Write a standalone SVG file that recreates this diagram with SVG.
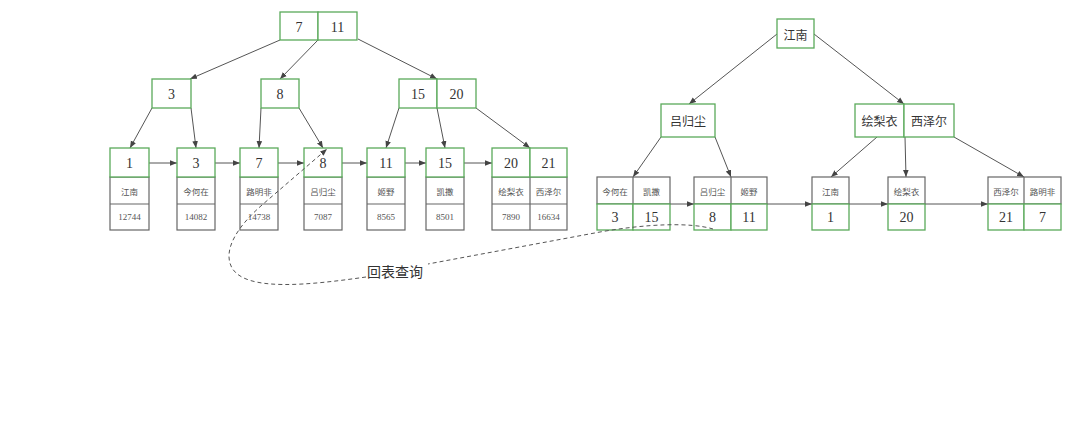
<svg xmlns="http://www.w3.org/2000/svg" width="1080" height="433" viewBox="0 0 1080 433">
<defs>
<marker id="ah" viewBox="0 0 10 10" refX="10" refY="5" markerWidth="7" markerHeight="7" orient="auto" markerUnits="userSpaceOnUse"><path d="M0,1 L10,5 L0,9 z" fill="#444"/></marker>
</defs>
<style>
.g{fill:#fff;stroke:#5aaa5a;stroke-width:1.3}
.k{fill:#fff;stroke:#666;stroke-width:1.2}
.d{stroke:#666;stroke-width:1.2;fill:none}
.e{stroke:#555;stroke-width:1;fill:none;marker-end:url(#ah)}
.dash{fill:none;stroke:#555;stroke-width:1;stroke-dasharray:4,3}
.n{font-family:"Liberation Serif","DejaVu Serif",serif;font-size:14px;fill:#333;text-anchor:middle;dominant-baseline:central}
.s{font-family:"Liberation Serif","DejaVu Serif",serif;font-size:9px;fill:#555;text-anchor:middle;dominant-baseline:central}
.c{font-family:"Noto Sans CJK SC",sans-serif;font-size:8.5px;fill:#555;text-anchor:middle;dominant-baseline:central}
.cm{font-family:"Noto Sans CJK SC",sans-serif;font-size:12px;fill:#333;text-anchor:middle;dominant-baseline:central}
.lb{font-family:"Noto Sans CJK SC",sans-serif;font-size:14px;fill:#333;dominant-baseline:central}
</style>
<rect width="1080" height="433" fill="#fff"/>
<g id="connectors">
<line class="e" x1="280" y1="40" x2="190" y2="79"/>
<line class="e" x1="318" y1="40" x2="280" y2="79"/>
<line class="e" x1="358" y1="39" x2="437" y2="79"/>
<line class="e" x1="152" y1="108" x2="130" y2="148"/>
<line class="e" x1="191" y1="108" x2="196" y2="148"/>
<line class="e" x1="261" y1="108" x2="259" y2="148"/>
<line class="e" x1="299" y1="108" x2="323" y2="148"/>
<line class="e" x1="399" y1="108" x2="386" y2="148"/>
<line class="e" x1="437" y1="108" x2="445" y2="148"/>
<line class="e" x1="476" y1="108" x2="530" y2="148"/>
<line class="e" x1="149" y1="163" x2="177" y2="163"/>
<line class="e" x1="215" y1="163" x2="240" y2="163"/>
<line class="e" x1="278" y1="163" x2="304" y2="163"/>
<line class="e" x1="342" y1="163" x2="367" y2="163"/>
<line class="e" x1="405" y1="163" x2="426" y2="163"/>
<line class="e" x1="464" y1="163" x2="492" y2="163"/>
<line class="e" x1="777" y1="34" x2="689" y2="104"/>
<line class="e" x1="814" y1="34" x2="904" y2="104"/>
<line class="e" x1="661" y1="137" x2="633" y2="177"/>
<line class="e" x1="715" y1="137" x2="731" y2="177"/>
<line class="e" x1="877" y1="137" x2="831" y2="177"/>
<line class="e" x1="905" y1="137" x2="906" y2="177"/>
<line class="e" x1="954" y1="137" x2="1024" y2="177"/>
<line class="e" x1="670" y1="204" x2="694" y2="204"/>
<line class="e" x1="767" y1="204" x2="812" y2="204"/>
<line class="e" x1="849" y1="204" x2="888" y2="204"/>
<line class="e" x1="925" y1="204" x2="988" y2="204"/>
</g>
<g id="root-l"><rect class="g" x="280" y="12" width="38" height="28"/><rect class="g" x="318" y="12" width="39" height="28"/><text class="n" x="299" y="27">7</text><text class="n" x="337.5" y="27">11</text></g>
<g id="n3"><rect class="g" x="152" y="79" width="39" height="29"/><text class="n" x="171.5" y="94">3</text></g>
<g id="n8"><rect class="g" x="261" y="79" width="38" height="29"/><text class="n" x="280" y="94">8</text></g>
<g id="n15-20"><rect class="g" x="399" y="79" width="38" height="29"/><rect class="g" x="437" y="79" width="39" height="29"/><text class="n" x="418" y="94">15</text><text class="n" x="456.5" y="94">20</text></g>
<g id="leaf1"><rect class="k" x="110" y="177" width="39" height="53"/><line class="d" x1="110" y1="204" x2="149" y2="204"/><rect class="g" x="110" y="148" width="39" height="29"/><text class="n" x="129.5" y="163">1</text><text class="c" x="129.5" y="191">江南</text><text class="s" x="129.5" y="217">12744</text></g>
<g id="leaf3"><rect class="k" x="177" y="177" width="38" height="53"/><line class="d" x1="177" y1="204" x2="215" y2="204"/><rect class="g" x="177" y="148" width="38" height="29"/><text class="n" x="196" y="163">3</text><text class="c" x="196" y="191">今何在</text><text class="s" x="196" y="217">14082</text></g>
<g id="leaf7"><rect class="k" x="240" y="177" width="38" height="53"/><line class="d" x1="240" y1="204" x2="278" y2="204"/><rect class="g" x="240" y="148" width="38" height="29"/><text class="n" x="259" y="163">7</text><text class="c" x="259" y="191">路明非</text><text class="s" x="259" y="217">14738</text></g>
<g id="leaf8"><rect class="k" x="304" y="177" width="38" height="53"/><line class="d" x1="304" y1="204" x2="342" y2="204"/><rect class="g" x="304" y="148" width="38" height="29"/><text class="n" x="323" y="163">8</text><text class="c" x="323" y="191">吕归尘</text><text class="s" x="323" y="217">7087</text></g>
<g id="leaf11"><rect class="k" x="367" y="177" width="38" height="53"/><line class="d" x1="367" y1="204" x2="405" y2="204"/><rect class="g" x="367" y="148" width="38" height="29"/><text class="n" x="386" y="163">11</text><text class="c" x="386" y="191">姬野</text><text class="s" x="386" y="217">8565</text></g>
<g id="leaf15"><rect class="k" x="426" y="177" width="38" height="53"/><line class="d" x1="426" y1="204" x2="464" y2="204"/><rect class="g" x="426" y="148" width="38" height="29"/><text class="n" x="445" y="163">15</text><text class="c" x="445" y="191">凯撒</text><text class="s" x="445" y="217">8501</text></g>
<g id="leaf20-21"><rect class="k" x="492" y="177" width="75" height="53"/><line class="d" x1="492" y1="204" x2="567" y2="204"/><line class="d" x1="530" y1="177" x2="530" y2="230"/><rect class="g" x="492" y="148" width="38" height="29"/><rect class="g" x="530" y="148" width="37" height="29"/><text class="n" x="511" y="163">20</text><text class="n" x="548.5" y="163">21</text><text class="c" x="511" y="191">绘梨衣</text><text class="c" x="548.5" y="191">西泽尔</text><text class="s" x="511" y="217">7890</text><text class="s" x="548.5" y="217">16634</text></g>
<g id="root-r"><rect class="g" x="777" y="19" width="37" height="29"/><text class="cm" x="795.5" y="34">江南</text></g>
<g id="r-lgc"><rect class="g" x="661" y="104" width="54" height="33"/><text class="cm" x="688" y="120.5">吕归尘</text></g>
<g id="r-hly-xze"><rect class="g" x="855" y="104" width="49" height="33"/><rect class="g" x="904" y="104" width="50" height="33"/><text class="cm" x="879.5" y="120.5">绘梨衣</text><text class="cm" x="929" y="120.5">西泽尔</text></g>
<g id="rl1"><rect class="k" x="597" y="177" width="73" height="27"/><line class="d" x1="633" y1="177" x2="633" y2="204"/><rect class="g" x="597" y="204" width="36" height="26"/><rect class="g" x="633" y="204" width="37" height="26"/><text class="c" x="615" y="190.5">今何在</text><text class="c" x="651.5" y="190.5">凯撒</text><text class="n" x="615" y="217">3</text><text class="n" x="651.5" y="217">15</text></g>
<g id="rl2"><rect class="k" x="694" y="177" width="73" height="27"/><line class="d" x1="731" y1="177" x2="731" y2="204"/><rect class="g" x="694" y="204" width="37" height="26"/><rect class="g" x="731" y="204" width="36" height="26"/><text class="c" x="712.5" y="190.5">吕归尘</text><text class="c" x="749" y="190.5">姬野</text><text class="n" x="712.5" y="217">8</text><text class="n" x="749" y="217">11</text></g>
<g id="rl3"><rect class="k" x="812" y="177" width="37" height="27"/><rect class="g" x="812" y="204" width="37" height="26"/><text class="c" x="830.5" y="190.5">江南</text><text class="n" x="830.5" y="217">1</text></g>
<g id="rl4"><rect class="k" x="888" y="177" width="37" height="27"/><rect class="g" x="888" y="204" width="37" height="26"/><text class="c" x="906.5" y="190.5">绘梨衣</text><text class="n" x="906.5" y="217">20</text></g>
<g id="rl5"><rect class="k" x="988" y="177" width="73" height="27"/><line class="d" x1="1024" y1="177" x2="1024" y2="204"/><rect class="g" x="988" y="204" width="36" height="26"/><rect class="g" x="1024" y="204" width="37" height="26"/><text class="c" x="1006" y="190.5">西泽尔</text><text class="c" x="1042.5" y="190.5">路明非</text><text class="n" x="1006" y="217">21</text><text class="n" x="1042.5" y="217">7</text></g>
<g id="back-to-table">
<path class="dash" d="M713,229 C690,222 645,224 600,232 L428,264"/>
<path class="dash" d="M366,277 C310,285 246,292 232,268 C222,250 238,226 262,205 L327,149" marker-end="url(#ah)"/>
<text class="lb" x="367" y="271">回表查询</text>
</g>
</svg>
